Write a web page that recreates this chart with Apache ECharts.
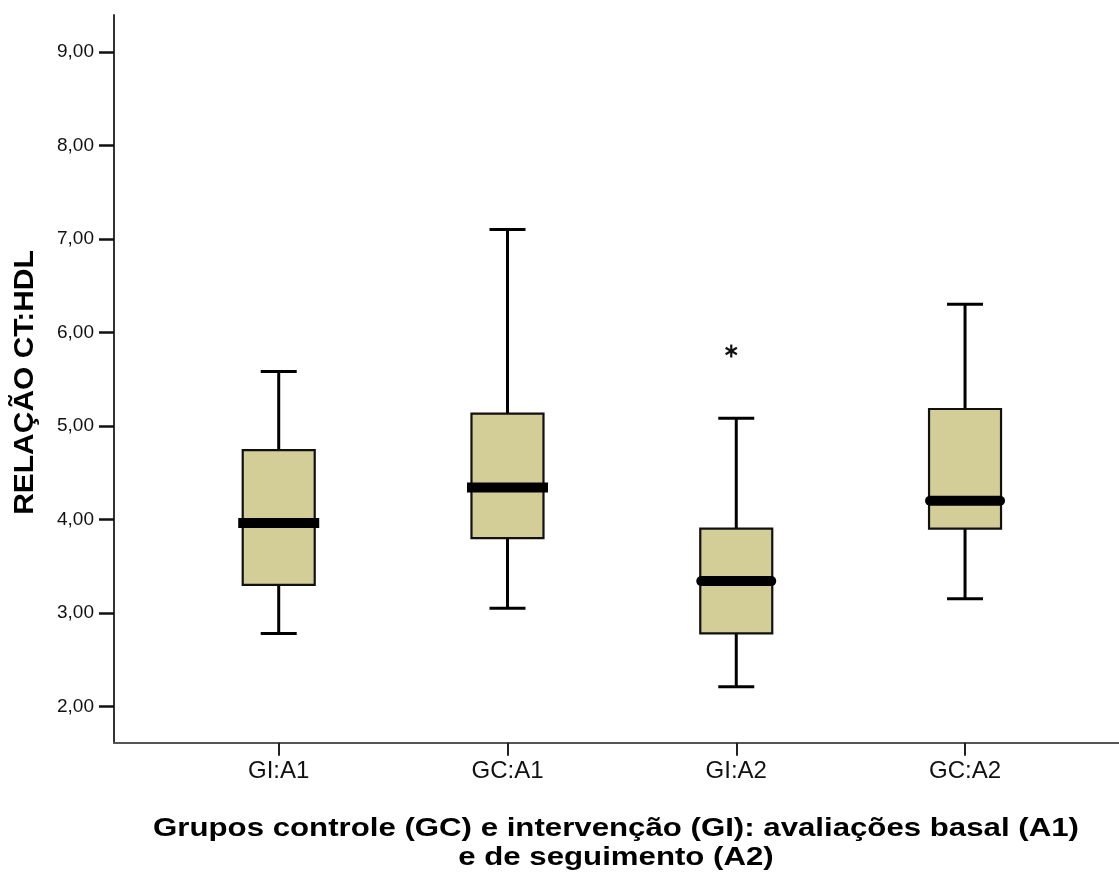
<!DOCTYPE html>
<html>
<head>
<meta charset="utf-8">
<script src="https://cdn.jsdelivr.net/npm/echarts@6/dist/echarts.min.js"></script>
<style>
  html, body { margin: 0; padding: 0; background: #fff; }
  #chart { width: 1119px; height: 881px; }
</style>
</head>
<body>
<div id="chart"></div>
<script>
// ---- data ----
const categories   = ['GI:A1', 'GC:A1', 'GI:A2', 'GC:A2'];
const lowWhisker   = [2.78, 3.05, 2.21, 3.15];
const q1Values     = [3.30, 3.80, 2.78, 3.90];
const medianValues = [3.96, 4.34, 3.34, 4.20];
const q3Values     = [4.74, 5.13, 3.90, 5.18];
const highWhisker  = [5.58, 7.10, 5.08, 6.30];
const outlierCategory = [3];      // 1-based category position
const outlierValues   = [5.80];
const yTickValues  = [2, 3, 4, 5, 6, 7, 8, 9];
const xTickValues  = [1, 2, 3, 4];
const yAxisTitle = 'RELAÇÃO CT:HDL';
const xAxisTitle = 'Grupos controle (GC) e intervenção (GI): avaliações basal (A1)\ne de seguimento (A2)';

// ---- styles ----
const FONT = '"Liberation Sans", Arial, Helvetica, sans-serif';
const BOX_FILL = '#D3CE98';
const medianRoundCap = [false, false, true, true];

const boxData = categories.map((c, i) => [i + 1, lowWhisker[i], q1Values[i], medianValues[i], q3Values[i], highWhisker[i]]);
const outlierData = outlierCategory.map((c, i) => [c, outlierValues[i]]);

function renderBox(params, api) {
  const x = api.value(0);
  const pLow = api.coord([x, api.value(1)]);
  const pQ1 = api.coord([x, api.value(2)]);
  const pMed = api.coord([x, api.value(3)]);
  const pQ3 = api.coord([x, api.value(4)]);
  const pHigh = api.coord([x, api.value(5)]);
  const cx = pMed[0];
  const halfBox = 36, halfCap = 18;
  const round = medianRoundCap[params.dataIndex];
  const halfMed = round ? 35 : 40.5;
  const lineStyle = { stroke: '#000', lineWidth: 3 };
  return {
    type: 'group',
    children: [
      { type: 'line', shape: { x1: cx, y1: pLow[1], x2: cx, y2: pQ1[1] }, style: lineStyle },
      { type: 'line', shape: { x1: cx, y1: pQ3[1], x2: cx, y2: pHigh[1] }, style: lineStyle },
      { type: 'line', shape: { x1: cx - halfCap, y1: pLow[1], x2: cx + halfCap, y2: pLow[1] }, style: lineStyle },
      { type: 'line', shape: { x1: cx - halfCap, y1: pHigh[1], x2: cx + halfCap, y2: pHigh[1] }, style: lineStyle },
      { type: 'rect', shape: { x: cx - halfBox, y: pQ3[1], width: halfBox * 2, height: pQ1[1] - pQ3[1] },
        style: { fill: BOX_FILL, stroke: '#111', lineWidth: 2.2 } },
      { type: 'line', shape: { x1: cx - halfMed, y1: pMed[1], x2: cx + halfMed, y2: pMed[1] },
        style: { stroke: '#000', lineWidth: 10, lineCap: round ? 'round' : 'butt' } }
    ]
  };
}

function renderStar(params, api) {
  const p = api.coord([api.value(0), api.value(1)]);
  const cx = p[0] - 5, cy = p[1];
  const r = 6.5;
  const st = { stroke: '#111', lineWidth: 2.2 };
  const children = [];
  for (let k = 0; k < 3; k++) {
    const a = Math.PI / 2 + k * Math.PI / 3;
    children.push({ type: 'line',
      shape: { x1: cx - r * Math.cos(a), y1: cy - r * Math.sin(a), x2: cx + r * Math.cos(a), y2: cy + r * Math.sin(a) },
      style: st });
  }
  return { type: 'group', children };
}

const fmt = v => v.toFixed(2).replace('.', ',');

const chart = echarts.init(document.getElementById('chart'), null, { renderer: 'canvas' });
chart.setOption({
  animation: false,
  backgroundColor: '#fff',
  grid: { left: 114, right: 0, top: 15, bottom: 138.3, containLabel: false },
  xAxis: {
    type: 'value',
    min: 0.28, max: 4.673,
    splitLine: { show: false },
    axisLine: { show: true, lineStyle: { color: '#555', width: 2 } },
    axisTick: { show: true, customValues: xTickValues, length: 13, lineStyle: { color: '#222', width: 2 } },
    axisLabel: { show: true, customValues: xTickValues, margin: 17,
      formatter: v => categories[Math.round(v) - 1] || '',
      color: '#111', fontFamily: FONT, fontSize: 24 }
  },
  yAxis: {
    type: 'value',
    min: 1.612, max: 9.393,
    splitLine: { show: false },
    axisLine: { show: true, lineStyle: { color: '#333', width: 2 } },
    axisTick: { show: true, customValues: yTickValues, length: 15, lineStyle: { color: '#111', width: 2.5 } },
    axisLabel: { show: true, customValues: yTickValues, margin: 20, formatter: fmt,
      color: '#111', fontFamily: FONT, fontSize: 19 }
  },
  graphic: [
    { type: 'text', x: 25, y: 382.5, rotation: Math.PI / 2, scaleX: 1.07, silent: true,
      style: { text: yAxisTitle, fontFamily: FONT, fontSize: 28, fontWeight: 'bold', fill: '#000',
        align: 'center', verticalAlign: 'middle', textAlign: 'center', textVerticalAlign: 'middle' } },
    { type: 'text', x: 616, y: 843.5, scaleX: 1.2, silent: true,
      style: { text: xAxisTitle, fontFamily: FONT, fontSize: 26, fontWeight: 'bold', fill: '#000', lineHeight: 29,
        align: 'center', verticalAlign: 'middle', textAlign: 'center', textVerticalAlign: 'middle' } }
  ],
  series: [
    { type: 'custom', name: 'boxes', renderItem: renderBox, data: boxData,
      encode: { x: 0, y: [1, 2, 3, 4, 5] }, silent: true },
    { type: 'custom', name: 'outliers', renderItem: renderStar, data: outlierData,
      encode: { x: 0, y: 1 }, silent: true }
  ]
});
</script>
</body>
</html>
